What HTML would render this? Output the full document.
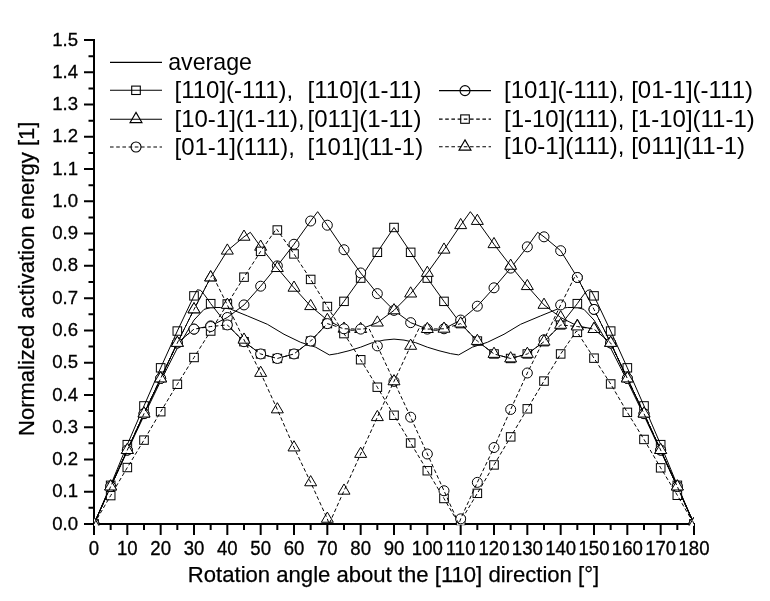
<!DOCTYPE html>
<html><head><meta charset="utf-8"><title>Normalized activation energy</title>
<style>html,body{margin:0;padding:0;background:#fff;}svg{display:block;}</style>
</head><body>
<svg width="770" height="601" viewBox="0 0 770 601">
<rect width="770" height="601" fill="#fff"/>
<g stroke="#000" stroke-width="2" fill="none" stroke-linecap="butt">
<line x1="94" y1="39" x2="94" y2="525"/>
<line x1="93" y1="524" x2="695" y2="524"/>
<path d="M84 524.00H94 M84 491.73H94 M84 459.47H94 M84 427.20H94 M84 394.93H94 M84 362.66H94 M84 330.40H94 M84 298.13H94 M84 265.86H94 M84 233.60H94 M84 201.33H94 M84 169.06H94 M84 136.80H94 M84 104.53H94 M84 72.26H94 M84 40.00H94 M88.5 507.87H94 M88.5 475.60H94 M88.5 443.33H94 M88.5 411.07H94 M88.5 378.80H94 M88.5 346.53H94 M88.5 314.26H94 M88.5 282.00H94 M88.5 249.73H94 M88.5 217.46H94 M88.5 185.20H94 M88.5 152.93H94 M88.5 120.66H94 M88.5 88.40H94 M88.5 56.13H94 M94.00 524V535 M127.33 524V535 M160.67 524V535 M194.00 524V535 M227.33 524V535 M260.67 524V535 M294.00 524V535 M327.33 524V535 M360.67 524V535 M394.00 524V535 M427.33 524V535 M460.67 524V535 M494.00 524V535 M527.33 524V535 M560.67 524V535 M594.00 524V535 M627.33 524V535 M660.67 524V535 M694.00 524V535 M110.67 524V530 M144.00 524V530 M177.33 524V530 M210.67 524V530 M244.00 524V530 M277.33 524V530 M310.67 524V530 M344.00 524V530 M377.33 524V530 M410.67 524V530 M444.00 524V530 M477.33 524V530 M510.67 524V530 M544.00 524V530 M577.33 524V530 M610.67 524V530 M644.00 524V530 M677.33 524V530"/>
</g>
<g font-family="Liberation Sans, Arial, sans-serif" font-size="18.6" fill="#000" stroke="#000" stroke-width="0.3">
<text transform="translate(78,529.60) scale(1,1.035)" text-anchor="end">0.0</text>
<text transform="translate(78,497.33) scale(1,1.035)" text-anchor="end">0.1</text>
<text transform="translate(78,465.07) scale(1,1.035)" text-anchor="end">0.2</text>
<text transform="translate(78,432.80) scale(1,1.035)" text-anchor="end">0.3</text>
<text transform="translate(78,400.53) scale(1,1.035)" text-anchor="end">0.4</text>
<text transform="translate(78,368.26) scale(1,1.035)" text-anchor="end">0.5</text>
<text transform="translate(78,336.00) scale(1,1.035)" text-anchor="end">0.6</text>
<text transform="translate(78,303.73) scale(1,1.035)" text-anchor="end">0.7</text>
<text transform="translate(78,271.46) scale(1,1.035)" text-anchor="end">0.8</text>
<text transform="translate(78,239.20) scale(1,1.035)" text-anchor="end">0.9</text>
<text transform="translate(78,206.93) scale(1,1.035)" text-anchor="end">1.0</text>
<text transform="translate(78,174.66) scale(1,1.035)" text-anchor="end">1.1</text>
<text transform="translate(78,142.40) scale(1,1.035)" text-anchor="end">1.2</text>
<text transform="translate(78,110.13) scale(1,1.035)" text-anchor="end">1.3</text>
<text transform="translate(78,77.86) scale(1,1.035)" text-anchor="end">1.4</text>
<text transform="translate(78,45.60) scale(1,1.035)" text-anchor="end">1.5</text>
<text transform="translate(94.00,554.9) scale(1,1.05)" text-anchor="middle">0</text>
<text transform="translate(127.33,554.9) scale(1,1.05)" text-anchor="middle">10</text>
<text transform="translate(160.67,554.9) scale(1,1.05)" text-anchor="middle">20</text>
<text transform="translate(194.00,554.9) scale(1,1.05)" text-anchor="middle">30</text>
<text transform="translate(227.33,554.9) scale(1,1.05)" text-anchor="middle">40</text>
<text transform="translate(260.67,554.9) scale(1,1.05)" text-anchor="middle">50</text>
<text transform="translate(294.00,554.9) scale(1,1.05)" text-anchor="middle">60</text>
<text transform="translate(327.33,554.9) scale(1,1.05)" text-anchor="middle">70</text>
<text transform="translate(360.67,554.9) scale(1,1.05)" text-anchor="middle">80</text>
<text transform="translate(394.00,554.9) scale(1,1.05)" text-anchor="middle">90</text>
<text transform="translate(427.33,554.9) scale(1,1.05)" text-anchor="middle">100</text>
<text transform="translate(460.67,554.9) scale(1,1.05)" text-anchor="middle">110</text>
<text transform="translate(494.00,554.9) scale(1,1.05)" text-anchor="middle">120</text>
<text transform="translate(527.33,554.9) scale(1,1.05)" text-anchor="middle">130</text>
<text transform="translate(560.67,554.9) scale(1,1.05)" text-anchor="middle">140</text>
<text transform="translate(594.00,554.9) scale(1,1.05)" text-anchor="middle">150</text>
<text transform="translate(627.33,554.9) scale(1,1.05)" text-anchor="middle">160</text>
<text transform="translate(660.67,554.9) scale(1,1.05)" text-anchor="middle">170</text>
<text transform="translate(694.00,554.9) scale(1,1.05)" text-anchor="middle">180</text>
</g>
<text x="393.5" y="582" text-anchor="middle" font-family="Liberation Sans, Arial, sans-serif" font-size="22.1" fill="#000" stroke="#000" stroke-width="0.25">Rotation angle about the [110] direction [°]</text>
<text x="0" y="0" transform="translate(33.8,278.8) rotate(-90)" text-anchor="middle" font-family="Liberation Sans, Arial, sans-serif" font-size="22.0" fill="#000" stroke="#000" stroke-width="0.25">Normalized activation energy [1]</text>
<defs><clipPath id="pc"><rect x="94" y="0" width="600" height="525.2"/></clipPath></defs>
<g clip-path="url(#pc)">
<polyline points="94.00,524.00 110.67,486.89 127.33,451.08 144.00,415.58 160.67,381.06 177.33,348.14 194.00,320.07 204.00,309.42 210.67,307.49 220.67,307.49 230.67,309.10 247.33,315.88 267.33,324.27 284.00,334.27 300.67,342.34 315.67,347.18 329.33,354.92 337.33,353.63 349.00,350.73 360.67,347.18 372.33,342.66 384.00,340.08 394.00,339.11 404.00,340.08 415.67,342.66 427.33,347.18 439.00,350.73 450.67,353.63 458.67,354.92 472.33,347.18 487.33,342.34 504.00,334.27 520.67,324.27 540.67,315.88 557.33,309.10 567.33,307.49 577.33,307.49 584.00,309.42 594.00,320.07 610.67,348.14 627.33,381.06 644.00,415.58 660.67,451.08 677.33,486.89 694.00,524.00" fill="none" stroke="#000" stroke-width="1.00" stroke-linejoin="round"/>
<g fill="#fff" stroke="#000" stroke-width="1.0"><rect x="89.70" y="519.80" width="8.60" height="8.40"/><rect x="106.37" y="481.08" width="8.60" height="8.40"/><rect x="123.03" y="440.42" width="8.60" height="8.40"/><rect x="139.70" y="401.70" width="8.60" height="8.40"/><rect x="156.37" y="363.63" width="8.60" height="8.40"/><rect x="173.03" y="326.84" width="8.60" height="8.40"/><rect x="189.70" y="291.67" width="8.60" height="8.40"/><rect x="206.37" y="299.42" width="8.60" height="8.40"/><rect x="223.03" y="320.71" width="8.60" height="8.40"/><rect x="239.70" y="337.49" width="8.60" height="8.40"/><rect x="256.37" y="349.75" width="8.60" height="8.40"/><rect x="273.03" y="354.27" width="8.60" height="8.40"/><rect x="289.70" y="349.75" width="8.60" height="8.40"/><rect x="306.37" y="336.85" width="8.60" height="8.40"/><rect x="323.03" y="319.42" width="8.60" height="8.40"/><rect x="339.70" y="297.16" width="8.60" height="8.40"/><rect x="356.37" y="273.93" width="8.60" height="8.40"/><rect x="373.03" y="248.11" width="8.60" height="8.40"/><rect x="389.70" y="223.27" width="8.60" height="8.40"/><rect x="406.37" y="248.11" width="8.60" height="8.40"/><rect x="423.03" y="273.93" width="8.60" height="8.40"/><rect x="439.70" y="297.16" width="8.60" height="8.40"/><rect x="456.37" y="319.42" width="8.60" height="8.40"/><rect x="473.03" y="336.85" width="8.60" height="8.40"/><rect x="489.70" y="349.75" width="8.60" height="8.40"/><rect x="506.37" y="354.27" width="8.60" height="8.40"/><rect x="523.03" y="349.75" width="8.60" height="8.40"/><rect x="539.70" y="337.49" width="8.60" height="8.40"/><rect x="556.37" y="320.71" width="8.60" height="8.40"/><rect x="573.03" y="299.42" width="8.60" height="8.40"/><rect x="589.70" y="291.67" width="8.60" height="8.40"/><rect x="606.37" y="326.84" width="8.60" height="8.40"/><rect x="623.03" y="363.63" width="8.60" height="8.40"/><rect x="639.70" y="401.70" width="8.60" height="8.40"/><rect x="656.37" y="440.42" width="8.60" height="8.40"/><rect x="673.03" y="481.08" width="8.60" height="8.40"/><rect x="689.70" y="519.80" width="8.60" height="8.40"/></g>
<polyline points="94.00,524.00 110.67,485.28 127.33,444.62 144.00,405.90 160.67,367.83 177.33,331.04 194.00,295.87 197.33,289.74 200.67,290.39 204.00,294.26 207.33,298.78 210.67,303.62 227.33,324.91 244.00,341.69 260.67,353.95 277.33,358.47 294.00,353.95 310.67,341.05 327.33,323.62 344.00,301.36 360.67,278.13 377.33,252.31 394.00,227.47 410.67,252.31 427.33,278.13 444.00,301.36 460.67,323.62 477.33,341.05 494.00,353.95 510.67,358.47 527.33,353.95 544.00,341.69 560.67,324.91 577.33,303.62 580.67,298.78 584.00,294.26 587.33,290.39 590.67,289.74 594.00,295.87 610.67,331.04 627.33,367.83 644.00,405.90 660.67,444.62 677.33,485.28 694.00,524.00" fill="none" stroke="#000" stroke-width="1.00" stroke-linejoin="round"/>
<g fill="#fff" stroke="#000" stroke-width="1.0"><circle cx="94.00" cy="524.00" r="5.00"/><circle cx="110.67" cy="486.57" r="5.00"/><circle cx="127.33" cy="450.11" r="5.00"/><circle cx="144.00" cy="413.65" r="5.00"/><circle cx="160.67" cy="378.48" r="5.00"/><circle cx="177.33" cy="342.98" r="5.00"/><circle cx="194.00" cy="329.11" r="5.00"/><circle cx="210.67" cy="325.88" r="5.00"/><circle cx="227.33" cy="317.49" r="5.00"/><circle cx="244.00" cy="304.91" r="5.00"/><circle cx="260.67" cy="286.19" r="5.00"/><circle cx="277.33" cy="265.86" r="5.00"/><circle cx="294.00" cy="244.25" r="5.00"/><circle cx="310.67" cy="221.01" r="5.00"/><circle cx="327.33" cy="225.21" r="5.00"/><circle cx="344.00" cy="249.73" r="5.00"/><circle cx="360.67" cy="272.96" r="5.00"/><circle cx="377.33" cy="293.61" r="5.00"/><circle cx="394.00" cy="310.39" r="5.00"/><circle cx="410.67" cy="322.65" r="5.00"/><circle cx="427.33" cy="329.11" r="5.00"/><circle cx="444.00" cy="328.78" r="5.00"/><circle cx="460.67" cy="320.07" r="5.00"/><circle cx="477.33" cy="306.20" r="5.00"/><circle cx="494.00" cy="287.81" r="5.00"/><circle cx="510.67" cy="268.12" r="5.00"/><circle cx="527.33" cy="246.83" r="5.00"/><circle cx="544.00" cy="236.82" r="5.00"/><circle cx="560.67" cy="250.70" r="5.00"/><circle cx="577.33" cy="277.48" r="5.00"/><circle cx="594.00" cy="309.42" r="5.00"/><circle cx="610.67" cy="342.98" r="5.00"/><circle cx="627.33" cy="378.48" r="5.00"/><circle cx="644.00" cy="413.65" r="5.00"/><circle cx="660.67" cy="450.11" r="5.00"/><circle cx="677.33" cy="486.57" r="5.00"/><circle cx="694.00" cy="524.00" r="5.00"/></g>
<polyline points="94.00,524.00 110.67,486.57 127.33,450.11 144.00,413.65 160.67,378.48 177.33,342.98 194.00,329.11 210.67,325.88 227.33,317.49 244.00,304.91 260.67,286.19 277.33,265.86 294.00,244.25 310.67,221.01 317.67,211.66 327.33,225.21 344.00,249.73 360.67,272.96 377.33,293.61 394.00,310.39 410.67,322.65 427.33,329.11 435.67,330.40 444.00,328.78 460.67,320.07 477.33,306.20 494.00,287.81 510.67,268.12 527.33,246.83 537.67,232.31 544.00,236.82 560.67,250.70 577.33,277.48 594.00,309.42 610.67,342.98 627.33,378.48 644.00,413.65 660.67,450.11 677.33,486.57 694.00,524.00" fill="none" stroke="#000" stroke-width="1.00" stroke-linejoin="round"/>
<g fill="#fff" stroke="#000" stroke-width="1.0"><path d="M94.00 517.20L100.00 527.40L88.00 527.40Z"/><path d="M110.67 479.77L116.67 489.97L104.67 489.97Z"/><path d="M127.33 443.31L133.33 453.51L121.33 453.51Z"/><path d="M144.00 406.85L150.00 417.05L138.00 417.05Z"/><path d="M160.67 371.68L166.67 381.88L154.67 381.88Z"/><path d="M177.33 336.18L183.33 346.38L171.33 346.38Z"/><path d="M194.00 302.62L200.00 312.82L188.00 312.82Z"/><path d="M210.67 270.68L216.67 280.88L204.67 280.88Z"/><path d="M227.33 243.90L233.33 254.10L221.33 254.10Z"/><path d="M244.00 230.02L250.00 240.22L238.00 240.22Z"/><path d="M260.67 240.03L266.67 250.23L254.67 250.23Z"/><path d="M277.33 261.32L283.33 271.52L271.33 271.52Z"/><path d="M294.00 281.01L300.00 291.21L288.00 291.21Z"/><path d="M310.67 299.40L316.67 309.60L304.67 309.60Z"/><path d="M327.33 313.27L333.33 323.47L321.33 323.47Z"/><path d="M344.00 321.98L350.00 332.18L338.00 332.18Z"/><path d="M360.67 322.31L366.67 332.51L354.67 332.51Z"/><path d="M377.33 315.85L383.33 326.05L371.33 326.05Z"/><path d="M394.00 303.59L400.00 313.79L388.00 313.79Z"/><path d="M410.67 286.81L416.67 297.01L404.67 297.01Z"/><path d="M427.33 266.16L433.33 276.36L421.33 276.36Z"/><path d="M444.00 242.93L450.00 253.13L438.00 253.13Z"/><path d="M460.67 218.41L466.67 228.61L454.67 228.61Z"/><path d="M477.33 214.21L483.33 224.41L471.33 224.41Z"/><path d="M494.00 237.45L500.00 247.65L488.00 247.65Z"/><path d="M510.67 259.06L516.67 269.26L504.67 269.26Z"/><path d="M527.33 279.39L533.33 289.59L521.33 289.59Z"/><path d="M544.00 298.11L550.00 308.31L538.00 308.31Z"/><path d="M560.67 310.69L566.67 320.89L554.67 320.89Z"/><path d="M577.33 319.08L583.33 329.28L571.33 329.28Z"/><path d="M594.00 322.31L600.00 332.51L588.00 332.51Z"/><path d="M610.67 336.18L616.67 346.38L604.67 346.38Z"/><path d="M627.33 371.68L633.33 381.88L621.33 381.88Z"/><path d="M644.00 406.85L650.00 417.05L638.00 417.05Z"/><path d="M660.67 443.31L666.67 453.51L654.67 453.51Z"/><path d="M677.33 479.77L683.33 489.97L671.33 489.97Z"/><path d="M694.00 517.20L700.00 527.40L688.00 527.40Z"/></g>
<polyline points="94.00,524.00 110.67,486.57 127.33,450.11 144.00,413.65 160.67,378.48 177.33,342.98 194.00,309.42 210.67,277.48 227.33,250.70 244.00,236.82 250.33,232.31 260.67,246.83 277.33,268.12 294.00,287.81 310.67,306.20 327.33,320.07 344.00,328.78 352.33,330.40 360.67,329.11 377.33,322.65 394.00,310.39 410.67,293.61 427.33,272.96 444.00,249.73 460.67,225.21 470.33,211.66 477.33,221.01 494.00,244.25 510.67,265.86 527.33,286.19 544.00,304.91 560.67,317.49 577.33,325.88 594.00,329.11 610.67,342.98 627.33,378.48 644.00,413.65 660.67,450.11 677.33,486.57 694.00,524.00" fill="none" stroke="#000" stroke-width="1.00" stroke-linejoin="round"/>
<g fill="#fff" stroke="#000" stroke-width="1.0"><rect x="89.70" y="519.80" width="8.60" height="8.40"/><rect x="106.37" y="491.41" width="8.60" height="8.40"/><rect x="123.03" y="463.33" width="8.60" height="8.40"/><rect x="139.70" y="435.91" width="8.60" height="8.40"/><rect x="156.37" y="407.51" width="8.60" height="8.40"/><rect x="173.03" y="380.08" width="8.60" height="8.40"/><rect x="189.70" y="353.30" width="8.60" height="8.40"/><rect x="206.37" y="326.84" width="8.60" height="8.40"/><rect x="223.03" y="299.74" width="8.60" height="8.40"/><rect x="239.70" y="272.96" width="8.60" height="8.40"/><rect x="256.37" y="247.14" width="8.60" height="8.40"/><rect x="273.03" y="225.80" width="8.60" height="8.40"/><rect x="289.70" y="249.73" width="8.60" height="8.40"/><rect x="306.37" y="275.22" width="8.60" height="8.40"/><rect x="323.03" y="302.32" width="8.60" height="8.40"/><rect x="339.70" y="329.42" width="8.60" height="8.40"/><rect x="356.37" y="355.56" width="8.60" height="8.40"/><rect x="373.03" y="382.99" width="8.60" height="8.40"/><rect x="389.70" y="411.06" width="8.60" height="8.40"/><rect x="406.37" y="438.81" width="8.60" height="8.40"/><rect x="423.03" y="466.56" width="8.60" height="8.40"/><rect x="439.70" y="494.31" width="8.60" height="8.40"/><rect x="456.37" y="516.86" width="8.60" height="8.40"/><rect x="473.03" y="489.15" width="8.60" height="8.40"/><rect x="489.70" y="460.75" width="8.60" height="8.40"/><rect x="506.37" y="432.68" width="8.60" height="8.40"/><rect x="523.03" y="404.61" width="8.60" height="8.40"/><rect x="539.70" y="376.86" width="8.60" height="8.40"/><rect x="556.37" y="349.75" width="8.60" height="8.40"/><rect x="573.03" y="328.18" width="8.60" height="8.40"/><rect x="589.70" y="353.95" width="8.60" height="8.40"/><rect x="606.37" y="379.76" width="8.60" height="8.40"/><rect x="623.03" y="408.16" width="8.60" height="8.40"/><rect x="639.70" y="435.26" width="8.60" height="8.40"/><rect x="656.37" y="463.66" width="8.60" height="8.40"/><rect x="673.03" y="491.08" width="8.60" height="8.40"/><rect x="689.70" y="519.80" width="8.60" height="8.40"/></g>
<polyline points="94.00,524.00 110.67,495.61 127.33,467.53 144.00,440.11 160.67,411.71 177.33,384.28 194.00,357.50 210.67,331.04 227.33,303.94 244.00,277.16 260.67,251.34 276.47,228.76 294.00,253.93 310.67,279.42 327.33,306.52 344.00,333.62 360.67,359.76 377.33,387.19 394.00,415.26 410.67,443.01 427.33,470.76 444.00,498.51 458.90,524.00 477.33,493.35 494.00,464.95 510.67,436.88 527.33,408.81 544.00,381.06 560.67,353.95 576.47,331.04 594.00,358.15 610.67,383.96 627.33,412.36 644.00,439.46 660.67,467.86 677.33,495.28 694.00,524.00" fill="none" stroke="#000" stroke-width="1.00" stroke-linejoin="round" stroke-dasharray="3.8,2.4"/>
<g fill="#fff" stroke="#000" stroke-width="1.0"><circle cx="94.00" cy="524.00" r="5.00"/><circle cx="110.67" cy="486.57" r="5.00"/><circle cx="127.33" cy="450.11" r="5.00"/><circle cx="144.00" cy="413.65" r="5.00"/><circle cx="160.67" cy="378.48" r="5.00"/><circle cx="177.33" cy="342.98" r="5.00"/><circle cx="194.00" cy="329.11" r="5.00"/><circle cx="210.67" cy="326.53" r="5.00"/><circle cx="227.33" cy="324.91" r="5.00"/><circle cx="244.00" cy="341.69" r="5.00"/><circle cx="260.67" cy="353.95" r="5.00"/><circle cx="277.33" cy="358.47" r="5.00"/><circle cx="294.00" cy="353.95" r="5.00"/><circle cx="310.67" cy="341.05" r="5.00"/><circle cx="327.33" cy="323.62" r="5.00"/><circle cx="344.00" cy="328.78" r="5.00"/><circle cx="360.67" cy="329.11" r="5.00"/><circle cx="377.33" cy="345.89" r="5.00"/><circle cx="394.00" cy="381.38" r="5.00"/><circle cx="410.67" cy="417.20" r="5.00"/><circle cx="427.33" cy="453.98" r="5.00"/><circle cx="444.00" cy="490.76" r="5.00"/><circle cx="460.67" cy="518.84" r="5.00"/><circle cx="477.33" cy="482.38" r="5.00"/><circle cx="494.00" cy="447.53" r="5.00"/><circle cx="510.67" cy="409.45" r="5.00"/><circle cx="527.33" cy="372.99" r="5.00"/><circle cx="544.00" cy="339.76" r="5.00"/><circle cx="560.67" cy="304.91" r="5.00"/><circle cx="577.33" cy="277.48" r="5.00"/><circle cx="594.00" cy="309.42" r="5.00"/><circle cx="610.67" cy="342.98" r="5.00"/><circle cx="627.33" cy="378.48" r="5.00"/><circle cx="644.00" cy="413.65" r="5.00"/><circle cx="660.67" cy="450.11" r="5.00"/><circle cx="677.33" cy="486.57" r="5.00"/><circle cx="694.00" cy="524.00" r="5.00"/></g>
<polyline points="94.00,524.00 110.67,486.57 127.33,450.11 144.00,413.65 160.67,378.48 177.33,342.98 194.00,329.11 210.67,326.53 227.33,324.91 244.00,341.69 260.67,353.95 277.33,358.47 294.00,353.95 310.67,341.05 327.33,323.62 344.00,328.78 360.67,329.11 369.00,328.46 377.33,345.89 394.00,381.38 410.67,417.20 427.33,453.98 444.00,490.76 458.90,524.00 460.67,518.84 477.33,482.38 494.00,447.53 510.67,409.45 527.33,372.99 544.00,339.76 560.67,304.91 575.67,274.90 577.33,277.48 594.00,309.42 610.67,342.98 627.33,378.48 644.00,413.65 660.67,450.11 677.33,486.57 694.00,524.00" fill="none" stroke="#000" stroke-width="1.00" stroke-linejoin="round" stroke-dasharray="3.8,2.4"/>
<g fill="#fff" stroke="#000" stroke-width="1.0"><path d="M94.00 517.20L100.00 527.40L88.00 527.40Z"/><path d="M110.67 479.77L116.67 489.97L104.67 489.97Z"/><path d="M127.33 443.31L133.33 453.51L121.33 453.51Z"/><path d="M144.00 406.85L150.00 417.05L138.00 417.05Z"/><path d="M160.67 371.68L166.67 381.88L154.67 381.88Z"/><path d="M177.33 336.18L183.33 346.38L171.33 346.38Z"/><path d="M194.00 302.62L200.00 312.82L188.00 312.82Z"/><path d="M210.67 270.68L216.67 280.88L204.67 280.88Z"/><path d="M227.33 298.11L233.33 308.31L221.33 308.31Z"/><path d="M244.00 332.96L250.00 343.16L238.00 343.16Z"/><path d="M260.67 366.19L266.67 376.39L254.67 376.39Z"/><path d="M277.33 402.65L283.33 412.85L271.33 412.85Z"/><path d="M294.00 440.73L300.00 450.93L288.00 450.93Z"/><path d="M310.67 475.58L316.67 485.78L304.67 485.78Z"/><path d="M327.33 512.04L333.33 522.24L321.33 522.24Z"/><path d="M344.00 483.96L350.00 494.16L338.00 494.16Z"/><path d="M360.67 447.18L366.67 457.38L354.67 457.38Z"/><path d="M377.33 410.40L383.33 420.60L371.33 420.60Z"/><path d="M394.00 374.58L400.00 384.78L388.00 384.78Z"/><path d="M410.67 339.09L416.67 349.29L404.67 349.29Z"/><path d="M427.33 322.31L433.33 332.51L421.33 332.51Z"/><path d="M444.00 321.98L450.00 332.18L438.00 332.18Z"/><path d="M460.67 316.82L466.67 327.02L454.67 327.02Z"/><path d="M477.33 334.25L483.33 344.45L471.33 344.45Z"/><path d="M494.00 347.15L500.00 357.35L488.00 357.35Z"/><path d="M510.67 351.67L516.67 361.87L504.67 361.87Z"/><path d="M527.33 347.15L533.33 357.35L521.33 357.35Z"/><path d="M544.00 334.89L550.00 345.09L538.00 345.09Z"/><path d="M560.67 318.11L566.67 328.31L554.67 328.31Z"/><path d="M577.33 319.73L583.33 329.93L571.33 329.93Z"/><path d="M594.00 322.31L600.00 332.51L588.00 332.51Z"/><path d="M610.67 336.18L616.67 346.38L604.67 346.38Z"/><path d="M627.33 371.68L633.33 381.88L621.33 381.88Z"/><path d="M644.00 406.85L650.00 417.05L638.00 417.05Z"/><path d="M660.67 443.31L666.67 453.51L654.67 453.51Z"/><path d="M677.33 479.77L683.33 489.97L671.33 489.97Z"/><path d="M694.00 517.20L700.00 527.40L688.00 527.40Z"/></g>
<polyline points="94.00,524.00 110.67,486.57 127.33,450.11 144.00,413.65 160.67,378.48 177.33,342.98 194.00,309.42 210.67,277.48 212.33,274.90 227.33,304.91 244.00,339.76 260.67,372.99 277.33,409.45 294.00,447.53 310.67,482.38 327.33,518.84 329.10,524.00 344.00,490.76 360.67,453.98 377.33,417.20 394.00,381.38 410.67,345.89 419.00,328.46 427.33,329.11 444.00,328.78 460.67,323.62 477.33,341.05 494.00,353.95 510.67,358.47 527.33,353.95 544.00,341.69 560.67,324.91 577.33,326.53 594.00,329.11 610.67,342.98 627.33,378.48 644.00,413.65 660.67,450.11 677.33,486.57 694.00,524.00" fill="none" stroke="#000" stroke-width="1.00" stroke-linejoin="round" stroke-dasharray="3.8,2.4"/>
</g>
<g fill="none" stroke="#000" stroke-width="1.1">
<line x1="110.0" y1="62.4" x2="162.0" y2="62.4"/>
<line x1="110.0" y1="90.3" x2="162.0" y2="90.3"/>
<rect x="131.70" y="86.10" width="8.60" height="8.40"/>
<line x1="110.0" y1="119.2" x2="162.0" y2="119.2"/>
<path d="M136.00 112.40L142.00 122.60L130.00 122.60Z"/>
<line x1="110.0" y1="147.0" x2="162.0" y2="147.0" stroke-dasharray="3.6,2.6"/>
<circle cx="136.00" cy="147.00" r="5.00"/>
<line x1="439.0" y1="90.6" x2="491.0" y2="90.6"/>
<circle cx="465.00" cy="90.60" r="5.00"/>
<line x1="439.0" y1="119.1" x2="491.0" y2="119.1" stroke-dasharray="3.6,2.6"/>
<rect x="460.70" y="114.90" width="8.60" height="8.40"/>
<line x1="439.0" y1="146.7" x2="491.0" y2="146.7" stroke-dasharray="3.6,2.6"/>
<path d="M465.00 139.90L471.00 150.10L459.00 150.10Z"/>
</g>
<g font-family="Liberation Sans, Arial, sans-serif" font-size="24" fill="#000" style="white-space:pre">
<text x="168.2" y="69.9" font-size="23.2">average</text>
<text x="174.5" y="98.2">[110](-111),</text>
<text x="307.6" y="98.2">[110](1-11)</text>
<text x="174.5" y="127.1">[10-1](1-11),</text>
<text x="307.6" y="127.1">[011](1-11)</text>
<text x="174.5" y="154.9">[01-1](111),</text>
<text x="307.6" y="154.9">[101](11-1)</text>
<text x="504" y="98.3" xml:space="preserve">[101](-111), [01-1](-111)</text>
<text x="504" y="126.8" xml:space="preserve">[1-10](111), [1-10](11-1)</text>
<text x="504" y="154.4" xml:space="preserve">[10-1](111), [011](11-1)</text>
</g>
</svg>
</body></html>
